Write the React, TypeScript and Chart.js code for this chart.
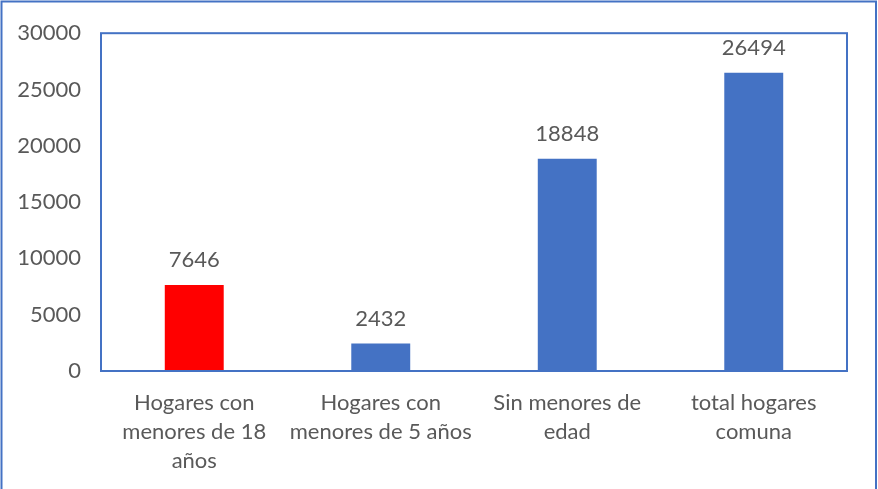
import React, { useEffect, useRef } from "react";
import { Chart, registerables } from "chart.js";

Chart.register(...registerables);

const categories: string[][] = [
  ["Hogares con", "menores de 18", "años"],
  ["Hogares con", "menores de 5 años"],
  ["Sin menores de", "edad"],
  ["total hogares", "comuna"],
];
const values: number[] = [7646, 2432, 18848, 26494];
const barColors: string[] = ["#FF0000", "#4472C4", "#4472C4", "#4472C4"];
const yMin = 0;
const yMax = 30000;
const yStep = 5000;

const FONT = "Lato, 'Open Sans', sans-serif";
const TEXT = "#595959";
const BLUE = "#4472C4";
const FS = 22;

const framePlugin = {
  id: "frames",
  beforeDraw(chart: any) {
    const ctx = chart.ctx;
    ctx.save();
    ctx.fillStyle = "#ffffff";
    ctx.fillRect(0, 0, chart.width, chart.height);
    ctx.strokeStyle = BLUE;
    ctx.lineWidth = 2;
    ctx.strokeRect(1.5, 1.5, chart.width - 3.5, chart.height + 20);
    ctx.restore();
  },
  afterDatasetsDraw(chart: any) {
    const ctx = chart.ctx;
    const a = chart.chartArea;
    ctx.save();
    ctx.strokeStyle = BLUE;
    ctx.lineWidth = 2;
    ctx.strokeRect(a.left, a.top, a.right - a.left, a.bottom - a.top);
    ctx.fillStyle = TEXT;
    ctx.font = `${FS}px ${FONT}`;
    ctx.textAlign = "center";
    ctx.textBaseline = "middle";
    const meta = chart.getDatasetMeta(0);
    meta.data.forEach((el: any, i: number) => {
      ctx.fillText(String(chart.data.datasets[0].data[i]), el.x, el.y - 25);
    });
    ctx.restore();
  },
};

export default function App() {
  const ref = useRef<HTMLCanvasElement | null>(null);
  useEffect(() => {
    if (!ref.current) return;
    const chart = new Chart(ref.current, {
      type: "bar",
      data: {
        labels: categories,
        datasets: [
          {
            data: values,
            backgroundColor: barColors,
            borderWidth: 0,
            barPercentage: 0.316,
            categoryPercentage: 1,
          },
        ],
      },
      options: {
        responsive: false,
        animation: false,
        layout: { padding: { left: 0, top: 31, right: 31, bottom: 0 } },
        plugins: {
          legend: { display: false },
          tooltip: { enabled: false },
        },
        scales: {
          x: {
            grid: { display: false, drawTicks: false },
            border: { display: false },
            ticks: {
              color: TEXT,
              font: { family: FONT, size: FS, lineHeight: 29 / FS },
              padding: 17,
              autoSkip: false,
              maxRotation: 0,
              minRotation: 0,
            },
            afterFit: (s: any) => {
              s.height = 118;
            },
          },
          y: {
            min: yMin,
            max: yMax,
            grid: { display: false, drawTicks: false },
            border: { display: false },
            ticks: {
              stepSize: yStep,
              color: TEXT,
              font: { family: FONT, size: FS },
              padding: 20,
              callback: (v: any) => String(v),
            },
            afterFit: (s: any) => {
              s.width = 101;
            },
          },
        },
      },
      plugins: [framePlugin],
    });
    return () => chart.destroy();
  }, []);
  return (
    <div style={{ position: "fixed", left: 0, top: 0, width: 878, height: 489 }}>
      <canvas ref={ref} width={878} height={489} style={{ width: 878, height: 489 }} />
    </div>
  );
}
